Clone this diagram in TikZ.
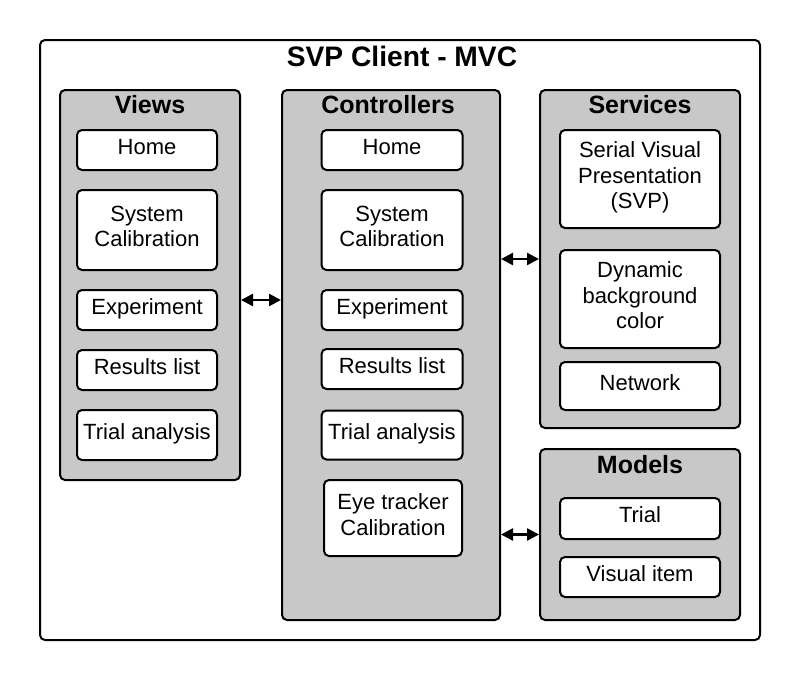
\documentclass[tikz,border=0pt]{standalone}
\usepackage{fontspec}
\setmainfont{Liberation Sans}
\usepackage{tikz}
\usetikzlibrary{arrows.meta}
\definecolor{panelgray}{RGB}{200,200,200}

\begin{document}
\begin{tikzpicture}[x=1pt, y=-1pt,
        frame/.style={draw, line width=2pt, rounded corners=5pt, inner sep=0pt},
        panel/.style={frame, fill=panelgray},
        item/.style={frame, fill=white, align=center, text depth=7pt, font=\fontsize{22}{25.5}\selectfont},
        head/.style={font=\bfseries\fontsize{25}{28}\selectfont},
        link/.style={line width=2.5pt, {Triangle[length=12pt,width=12pt]}-{Triangle[length=12pt,width=12pt]}}]
    \useasboundingbox (0,0) rectangle (800,680);
    \node[frame, minimum width=720pt, minimum height=600pt] (client) at (400,340) {};
    \node[font=\bfseries\fontsize{28.2}{32}\selectfont] (title) at (402,56) {SVP Client - MVC};

    \node[panel, minimum width=180pt, minimum height=390pt] (views) at (150,285) {};
    \node[head] (viewsT) at (150,105) {Views};
    \node[item, minimum width=140pt, minimum height=40pt] (vHome) at (147,150) {Home};
    \node[item, minimum width=140pt, minimum height=80pt] (vCalib) at (147,230) {System\\Calibration};
    \node[item, minimum width=140pt, minimum height=40pt] (vExp) at (147,310) {Experiment};
    \node[item, minimum width=140pt, minimum height=40pt] (vRes) at (147,370) {Results list};
    \node[item, minimum width=140pt, minimum height=50pt] (vTrial) at (147,435) {Trial analysis};

    \node[panel, minimum width=218pt, minimum height=530pt] (ctrl) at (391,355) {};
    \node[head] (ctrlT) at (388,105) {Controllers};
    \node[item, minimum width=141pt, minimum height=40pt] (cHome) at (392,150) {Home};
    \node[item, minimum width=141pt, minimum height=80pt] (cCalib) at (392,230) {System\\Calibration};
    \node[item, minimum width=141pt, minimum height=40pt] (cExp) at (392,310) {Experiment};
    \node[item, minimum width=141pt, minimum height=40pt] (cRes) at (392,369) {Results list};
    \node[item, minimum width=141pt, minimum height=49pt] (cTrial) at (392,435) {Trial analysis};
    \node[item, minimum width=138pt, minimum height=76pt] (cEye) at (393,518) {Eye tracker\\Calibration};

    \node[panel, minimum width=200pt, minimum height=338pt] (services) at (640,259) {};
    \node[head] (servicesT) at (640,105) {Services};
    \node[item, minimum width=160pt, minimum height=98pt] (sSVP) at (640,179) {Serial Visual\\Presentation\\(SVP)};
    \node[item, minimum width=160pt, minimum height=98pt] (sDyn) at (640,299) {Dynamic\\background\\color};
    \node[item, minimum width=160pt, minimum height=48pt] (sNet) at (640,386) {Network};

    \node[panel, minimum width=200pt, minimum height=171pt] (models) at (640,534.5) {};
    \node[head] (modelsT) at (640,465) {Models};
    \node[item, minimum width=160pt, minimum height=41pt] (mTrial) at (640,518.5) {Trial};
    \node[item, minimum width=160pt, minimum height=40pt] (mItem) at (640,577) {Visual item};

    \coordinate (vcLink) at ([yshift=-15pt]views.east);
    \draw[link] (vcLink) -- (ctrl.west |- vcLink);
    \draw[link] (ctrl.east |- services.west) -- (services.west);
    \draw[link] (ctrl.east |- models.west) -- (models.west);
\end{tikzpicture}
\end{document}
